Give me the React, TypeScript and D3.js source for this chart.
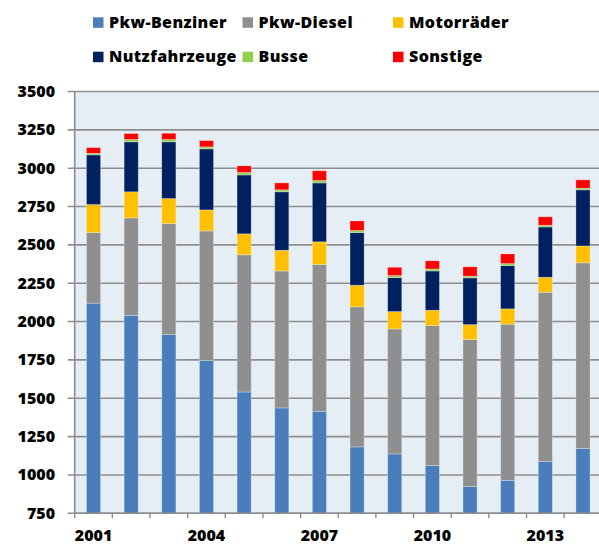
import * as d3 from 'd3';
import React, { useEffect, useRef } from 'react';

// Jahre (Kategorien)
const years = [
  '2001', '2002', '2003', '2004', '2005', '2006', '2007',
  '2008', '2009', '2010', '2011', '2012', '2013', '2014',
];

// Werte je Fahrzeuggruppe
const pkwBenziner = [2120, 2041, 1915, 1746, 1541, 1437, 1415, 1183, 1137, 1061, 924, 965, 1089, 1172];
const pkwDiesel = [460, 635, 724, 845, 894, 893, 957, 913, 815, 913, 959, 1018, 1102, 1211];
const motorraeder = [183, 170, 163, 137, 137, 135, 148, 141, 113, 100, 97, 100, 98, 110];
const nutzfahrzeuge = [324, 326, 370, 398, 384, 381, 384, 343, 222, 256, 305, 282, 328, 366];
const busse = [10, 15, 15, 13, 16, 13, 16, 14, 13, 13, 11, 13, 11, 11];
const sonstige = [37, 39, 41, 41, 43, 45, 63, 62, 54, 53, 61, 63, 55, 54];

const seriesNames = ['Pkw-Benziner', 'Pkw-Diesel', 'Motorräder', 'Nutzfahrzeuge', 'Busse', 'Sonstige'];
const seriesValues = [pkwBenziner, pkwDiesel, motorraeder, nutzfahrzeuge, busse, sonstige];
const seriesColors = ['#4a7ebb', '#8f8f8f', '#ffc000', '#002060', '#92d050', '#ff0000'];

const yTicks = [750, 1000, 1250, 1500, 1750, 2000, 2250, 2500, 2750, 3000, 3250, 3500];
const xLabels = ['2001', '2004', '2007', '2010', '2013'];

const FONT = "'Open Sans', sans-serif";

const StackedBars = () => {
  const svgRef = useRef<SVGSVGElement | null>(null);
  const width = 599;
  const height = 545;

  useEffect(() => {
    const svg = d3.select(svgRef.current);
    svg.selectAll('*').remove();

    const left = 74.7;
    const right = 601.8;
    const top = 91.5;
    const bottom = 513.3;

    const rows = years.map((year, i) => {
      const row: any = { year };
      seriesNames.forEach((name, s) => {
        row[name] = seriesValues[s][i];
      });
      return row;
    });

    const xScale = d3
      .scaleBand()
      .domain(years)
      .range([left, right])
      .paddingInner(0.625)
      .paddingOuter(0.3125);
    const step = xScale.step();

    const yScale = d3.scaleLinear().domain([750, 3500]).range([bottom, top]).clamp(true);

    // plot background
    svg
      .append('rect')
      .attr('x', left)
      .attr('y', top)
      .attr('width', right - left)
      .attr('height', bottom - top)
      .attr('fill', '#e6eef5');

    // gridlines + y ticks
    const grid = svg.append('g');
    yTicks.forEach((t) => {
      grid
        .append('line')
        .attr('x1', left - 7)
        .attr('x2', right)
        .attr('y1', yScale(t))
        .attr('y2', yScale(t))
        .attr('stroke', '#8e8e8e')
        .attr('stroke-width', 1.6);
      grid
        .append('text')
        .attr('x', 55)
        .attr('y', yScale(t) + 5.5)
        .attr('text-anchor', 'end')
        .attr('font-family', FONT)
        .attr('font-weight', 800)
        .attr('font-size', 16)
        .attr('fill', '#000')
        .text(t);
    });

    // stacked bars
    const stacked = d3.stack<any>().keys(seriesNames)(rows);
    stacked.forEach((layer, s) => {
      svg
        .append('g')
        .selectAll('rect')
        .data(layer)
        .enter()
        .append('rect')
        .attr('x', (d: any) => xScale(d.data.year) as number)
        .attr('width', xScale.bandwidth())
        .attr('y', (d: any) => yScale(d[1]))
        .attr('height', (d: any) => Math.max(0, yScale(d[0]) - yScale(d[1])))
        .attr('fill', seriesColors[s])
        .attr('stroke', 'rgba(255,255,255,0.35)')
        .attr('stroke-width', 0.8);
    });

    // y axis line
    svg
      .append('line')
      .attr('x1', left)
      .attr('x2', left)
      .attr('y1', top)
      .attr('y2', bottom)
      .attr('stroke', '#8e8e8e')
      .attr('stroke-width', 1.6);

    // x axis line and ticks at category borders
    svg
      .append('line')
      .attr('x1', left)
      .attr('x2', right)
      .attr('y1', bottom)
      .attr('y2', bottom)
      .attr('stroke', '#8e8e8e')
      .attr('stroke-width', 1.6);
    d3.range(years.length + 1).forEach((i) => {
      svg
        .append('line')
        .attr('x1', left + i * step)
        .attr('x2', left + i * step)
        .attr('y1', bottom)
        .attr('y2', bottom + 5)
        .attr('stroke', '#8e8e8e')
        .attr('stroke-width', 1.4);
    });

    xLabels.forEach((lab) => {
      svg
        .append('text')
        .attr('x', (xScale(lab) as number) + xScale.bandwidth() / 2)
        .attr('y', 541)
        .attr('text-anchor', 'middle')
        .attr('font-family', FONT)
        .attr('font-weight', 800)
        .attr('font-size', 16)
        .attr('fill', '#000')
        .text(lab);
    });

    // legend, 3 columns x 2 rows
    const legendCols = [93, 242.5, 393];
    const legendRows = [17.3, 51.7];
    seriesNames.forEach((name, s) => {
      const col = s % 3;
      const row = Math.floor(s / 3);
      const g = svg
        .append('g')
        .attr('transform', `translate(${legendCols[col]}, ${legendRows[row]})`);
      g.append('rect').attr('width', 10.5).attr('height', 10.5).attr('fill', seriesColors[s]);
      g.append('text')
        .attr('x', 16)
        .attr('y', 10.5)
        .attr('font-family', FONT)
        .attr('font-weight', 800)
        .attr('font-size', 16)
        .attr('letter-spacing', 0.4)
        .attr('fill', '#000')
        .text(name);
    });
  }, []);

  return <svg ref={svgRef} width={width} height={height} style={{ display: 'block' }}></svg>;
};

export default function App() {
  return (
    <div style={{ position: 'absolute', left: 0, top: 0, width: 599, height: 545, background: '#fff' }}>
      <StackedBars />
    </div>
  );
}
